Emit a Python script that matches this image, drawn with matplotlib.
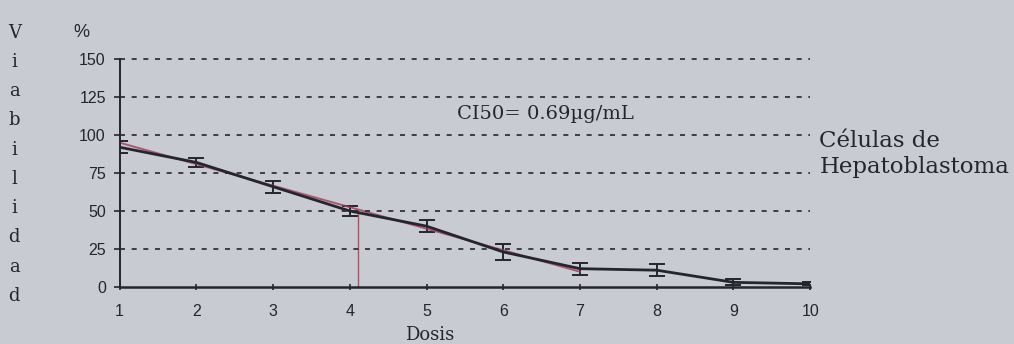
import matplotlib.pyplot as plt
import numpy as np

# Viabilidad (%) por dosis
dosis = [1, 2, 3, 4, 5, 6, 7, 8, 9, 10]
viabilidad = [92, 82, 66, 50, 40, 23, 12, 11, 3, 2]
error = [4, 3, 4, 3, 4, 5, 4, 4, 2, 1]

# recta de ajuste (roja) y marca de CI50
ajuste_x = [1, 7]
ajuste_y = [95, 10]
ci50_x = 4.1
ci50_y = 50

fondo = '#c8cbd1'
tinta = '#25252f'
fig = plt.figure(figsize=(10.14, 3.44), dpi=100, facecolor=fondo)
ax = fig.add_axes([0.118, 0.166, 0.681, 0.662], facecolor=fondo)

ax.errorbar(dosis, viabilidad, yerr=error, color=tinta, lw=2.0,
            capsize=6, elinewidth=1.4, capthick=1.4)
ax.plot(ajuste_x, ajuste_y, color='#a03a55', lw=1.4, alpha=0.8)
ax.plot([ci50_x, ci50_x], [0, ci50_y], color='#b05060', lw=1.0)

ax.set_xlim(1, 10)
ax.set_ylim(0, 150)
ax.set_xticks(dosis)
ax.set_yticks([0, 25, 50, 75, 100, 125, 150])
for v in [25, 50, 75, 100, 125, 150]:
    ax.axhline(v, color=tinta, ls=(0, (3, 4)), lw=1.2, clip_on=False)

for s in ['top', 'right']:
    ax.spines[s].set_visible(False)
ax.spines['left'].set_color(tinta)
ax.spines['bottom'].set_color(tinta)
ax.spines['left'].set_linewidth(1.4)
ax.spines['bottom'].set_linewidth(1.8)
ax.tick_params(colors=tinta, labelsize=11.5, length=4, width=1.2)
ax.tick_params(axis='x', direction='inout', pad=10)
ax.tick_params(axis='y', pad=6)
for t in ax.get_xticklabels() + ax.get_yticklabels():
    t.set_family('Liberation Sans')

fig.text(0.424, 0.026, 'Dosis', family='DejaVu Serif', fontsize=13,
         color=tinta, ha='center', va='center')
fig.text(0.080, 0.905, '%', family='Liberation Sans', fontsize=13,
         color=tinta, ha='center', va='center')
letras = 'Viabilidad'
for i, c in enumerate(letras):
    fig.text(0.014, 0.905 - i * 0.085, c, family='DejaVu Serif',
             fontsize=13, color=tinta, ha='center', va='center')
ax.text(6.55, 114, 'CI50= 0.69µg/mL', family='DejaVu Serif', fontsize=14,
        color=tinta, ha='center', va='center')
fig.text(0.808, 0.552, 'Células de\nHepatoblastoma', family='DejaVu Serif',
         fontsize=16.5, color=tinta, ha='left', va='center',
         linespacing=1.2)

fig.savefig('out.png', dpi=100, facecolor=fondo)
